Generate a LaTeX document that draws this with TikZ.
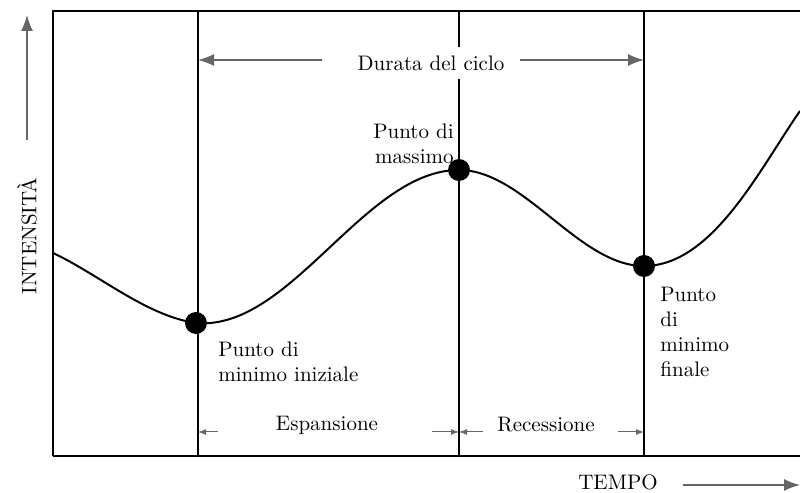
\documentclass[tikz,border=0pt]{standalone}
\usepackage{tikz}
\usetikzlibrary{arrows.meta,positioning,calc}

\begin{document}
\begin{tikzpicture}[x=0.5pt, y=0.5pt, font=\fontsize{10.5}{12.5}\selectfont,
  frame/.style={line width=1.3pt},
  curve/.style={line width=1pt, looseness=0.8},
  dot/.style={circle, fill=black, inner sep=0pt, minimum size=11pt},
  lbl/.style={inner sep=0pt, align=left},
  arr/.style={-{Latex[length=8pt,width=6pt]}, line width=0.7pt, black!60},
  tick/.style={-{Latex[length=4pt,width=3pt]}, line width=0.5pt, black!60}]
\useasboundingbox (0,0) rectangle (800,493);
% frame and phase lines
\coordinate (tl) at (53,482); \coordinate (bl) at (53,37);
\coordinate (tr) at (800,482); \coordinate (br) at (800,37);
\coordinate (t1) at (198,482); \coordinate (b1) at (198,37);
\coordinate (t2) at (459,482); \coordinate (b2) at (459,37);
\coordinate (t3) at (644,482); \coordinate (b3) at (644,37);
\draw[frame] (bl) -- (tl) -- (tr);
\draw[frame] (bl) -- (br);
\draw[frame] (t1) -- (b1);
\draw[frame] (t3) -- (b3);
\node[inner sep=0pt, minimum height=15.5pt] (durata) at (431,430) {Durata del ciclo};
\draw[frame] (t2) -- (durata.north -| t2);
\draw[frame] (durata.south -| t2) -- (b2);
\coordinate (dl) at (322,433); \coordinate (dr) at (520,433);
\draw[arr] (dl) -- (dl -| t1);
\draw[arr] (dr) -- (dr -| t3);
% turning points and curve
\coordinate (c0) at (53,240);
\node[dot] (pmin) at (196,170) {};
\node[dot] (pmax) at (459,323) {};
\node[dot] (pfin) at (644,227) {};
\coordinate (c4) at (800,382);
\draw[curve] (c0) to[out=-25,in=172] (pmin.center) to[out=-5,in=180] (pmax.center)
  to[out=0,in=180] (pfin.center) to[out=0,in=-125] (c4);
\node[lbl, align=right, above left=3pt and 2.5pt of pmax.center] (lmax) {Punto di\\massimo};
\node[lbl, below right=9.5pt and 11pt of pmin.center] (lmin) {Punto di\\minimo iniziale};
\node[lbl, below right=10.5pt and 8pt of pfin.center] (lfin) {Punto\\di\\minimo\\finale};
% phases
\coordinate (e1) at (218,61); \coordinate (e2) at (432,61);
\coordinate (e3) at (483,61); \coordinate (e4) at (618,61);
\draw[tick] (e1) -- (e1 -| b1);
\draw[tick] (e2) -- (e2 -| b2);
\draw[tick] (e3) -- (e3 -| b2);
\draw[tick] (e4) -- (e4 -| b3);
\node[lbl] (esp) at (327,68) {Espansione};
\node[lbl] (rec) at (546,68) {Recessione};
% axes labels
\node[lbl, rotate=90] (int) at (27,257) {INTENSITÀ};
\coordinate (ya) at (27,353); \coordinate (yb) at (27,478);
\draw[arr] (ya) -- (yb);
\node[lbl] (tempo) at (618,11) {TEMPO};
\coordinate (xa) at (683,8); \coordinate (xb) at (800,8);
\draw[arr] (xa) -- (xb);
\end{tikzpicture}
\end{document}
